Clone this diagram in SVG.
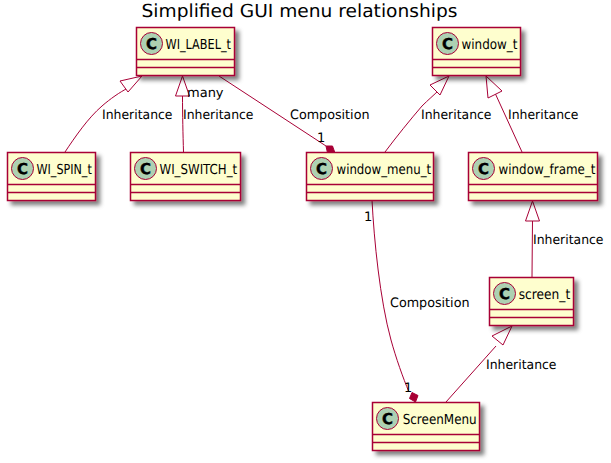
<svg xmlns="http://www.w3.org/2000/svg" width="611" height="463" viewBox="0 0 611 463">
<style>
text{font-family:"DejaVu Sans",sans-serif;fill:#000;text-rendering:geometricPrecision}
.t{font-size:18px}
.n{font-size:13.800px}
.l{font-size:13px}
.c{font-size:15px;font-weight:bold;text-anchor:middle;stroke:#000;stroke-width:.4}
.b{fill:#FEFECE;stroke:#A80036;stroke-width:1.5}
.d{stroke:#A80036;stroke-width:1.5;fill:none}
.o{fill:#ADD1B2;stroke:#A80036;stroke-width:1}
.e{fill:none;stroke:#A80036;stroke-width:1}
.h{fill:#fff;stroke:#A80036;stroke-width:1}
.f{fill:#A80036;stroke:#A80036;stroke-width:1}
</style>
<defs>
<filter id="s" x="-20%" y="-20%" width="150%" height="150%">
<feGaussianBlur in="SourceAlpha" stdDeviation="2" result="a"/>
<feColorMatrix in="a" values="0 0 0 0 0 0 0 0 0 0 0 0 0 0 0 0 0 0 .5 0" result="b"/>
<feOffset in="b" dx="4" dy="4" result="c"/>
<feBlend in="SourceGraphic" in2="c" mode="normal"/>
</filter>
</defs>
<text class="t" x="141.500" y="16.500" textLength="316" lengthAdjust="spacingAndGlyphs">Simplified GUI menu relationships</text>
<g id="connectors">
<path class="e" d="M65 152C75 137 88 118 102 106C110 99 120 92 128 88"/>
<polygon class="h" points="142,76 120,81 128,92"/>
<path class="e" d="M183.500 152C183 135 182.500 115 182.500 95"/>
<polygon class="h" points="182.500,76 175.500,96 189.500,96"/>
<path class="e" d="M219 76L326 146"/>
<polygon class="f" points="335,153 332.500,146 326,146 327.500,153"/>
<path class="e" d="M385 152C397 136 410 120 422 106C428 100 434 95 439 90"/>
<polygon class="h" points="449,76 430,85 440,95"/>
<path class="e" d="M522 152L495 93"/>
<polygon class="h" points="486,76 488,98 502,91"/>
<path class="e" d="M532 277L532.500 220"/>
<polygon class="h" points="532.500,201 525.500,221 539.500,221"/>
<path class="e" d="M372 200C374 240 380 300 391 340C396 358 403 378 409 392"/>
<polygon class="f" points="415.500,402 418,395.500 412,392.500 409.500,398.500"/>
<path class="e" d="M446 402L496 346"/>
<polygon class="h" points="512,326 492,336 503,345"/>
</g>
<g id="WI_LABEL_t"><rect class="b" filter="url(#s)" x="136.500" y="27.500" width="98" height="48"/><path class="d" d="M136.500 59.500H234.500M136.500 67.500H234.500"/><circle class="o" cx="151.500" cy="43.500" r="11"/><text class="c" x="151.500" y="49">C</text><text class="n" x="165.500" y="49" textLength="65.500" lengthAdjust="spacingAndGlyphs">WI_LABEL_t</text></g>
<g id="WI_SPIN_t"><rect class="b" filter="url(#s)" x="7.500" y="152.500" width="88" height="48"/><path class="d" d="M7.500 184.500H95.500M7.500 192.500H95.500"/><circle class="o" cx="22.500" cy="168.500" r="11"/><text class="c" x="22.500" y="174">C</text><text class="n" x="36.500" y="174" textLength="55.300" lengthAdjust="spacingAndGlyphs">WI_SPIN_t</text></g>
<g id="WI_SWITCH_t"><rect class="b" filter="url(#s)" x="130.500" y="152.500" width="110" height="48"/><path class="d" d="M130.500 184.500H240.500M130.500 192.500H240.500"/><circle class="o" cx="145.500" cy="168.500" r="11"/><text class="c" x="145.500" y="174">C</text><text class="n" x="159.500" y="174" textLength="77.700" lengthAdjust="spacingAndGlyphs">WI_SWITCH_t</text></g>
<g id="window_t"><rect class="b" filter="url(#s)" x="432.500" y="27.500" width="88" height="48"/><path class="d" d="M432.500 59.500H520.500M432.500 67.500H520.500"/><circle class="o" cx="447.500" cy="43.500" r="11"/><text class="c" x="447.500" y="49">C</text><text class="n" x="461.500" y="49" textLength="56" lengthAdjust="spacingAndGlyphs">window_t</text></g>
<g id="window_menu_t"><rect class="b" filter="url(#s)" x="306.500" y="152.500" width="127" height="48"/><path class="d" d="M306.500 184.500H433.500M306.500 192.500H433.500"/><circle class="o" cx="321.500" cy="168.500" r="11"/><text class="c" x="321.500" y="174">C</text><text class="n" x="336.500" y="174" textLength="94.700" lengthAdjust="spacingAndGlyphs">window_menu_t</text></g>
<g id="window_frame_t"><rect class="b" filter="url(#s)" x="468.500" y="152.500" width="129" height="48"/><path class="d" d="M468.500 184.500H597.500M468.500 192.500H597.500"/><circle class="o" cx="483.500" cy="168.500" r="11"/><text class="c" x="483.500" y="174">C</text><text class="n" x="498.500" y="174" textLength="97" lengthAdjust="spacingAndGlyphs">window_frame_t</text></g>
<g id="screen_t"><rect class="b" filter="url(#s)" x="489.500" y="277.500" width="84" height="48"/><path class="d" d="M489.500 309.500H573.500M489.500 317.500H573.500"/><circle class="o" cx="504.500" cy="293.500" r="11"/><text class="c" x="504.500" y="299">C</text><text class="n" x="518.700" y="299" textLength="51.600" lengthAdjust="spacingAndGlyphs">screen_t</text></g>
<g id="ScreenMenu"><rect class="b" filter="url(#s)" x="372.500" y="402.500" width="107" height="48"/><path class="d" d="M372.500 434.500H479.500M372.500 442.500H479.500"/><circle class="o" cx="387.500" cy="418.500" r="11"/><text class="c" x="387.500" y="424">C</text><text class="n" x="402.700" y="424" textLength="74" lengthAdjust="spacingAndGlyphs">ScreenMenu</text></g>
<g id="labels">
<text class="l" x="102" y="119" textLength="70.500" lengthAdjust="spacingAndGlyphs">Inheritance</text>
<text class="l" x="183" y="119" textLength="70.500" lengthAdjust="spacingAndGlyphs">Inheritance</text>
<text class="l" x="187" y="97">many</text>
<text class="l" x="290" y="119" textLength="79.500" lengthAdjust="spacingAndGlyphs">Composition</text>
<text class="l" x="317" y="142">1</text>
<text class="l" x="421" y="119" textLength="70.500" lengthAdjust="spacingAndGlyphs">Inheritance</text>
<text class="l" x="508" y="119" textLength="70.500" lengthAdjust="spacingAndGlyphs">Inheritance</text>
<text class="l" x="533" y="244" textLength="70.500" lengthAdjust="spacingAndGlyphs">Inheritance</text>
<text class="l" x="364" y="221">1</text>
<text class="l" x="390" y="307" textLength="79.500" lengthAdjust="spacingAndGlyphs">Composition</text>
<text class="l" x="404" y="392">1</text>
<text class="l" x="486" y="369" textLength="70.500" lengthAdjust="spacingAndGlyphs">Inheritance</text>
</g>
</svg>
